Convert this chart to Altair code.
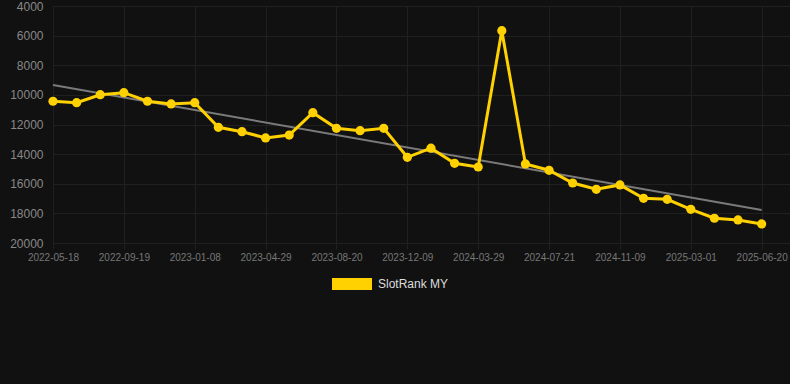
import altair as alt
import pandas as pd

# ---- data ----
ranks = [10430, 10530, 9990, 9850, 10430, 10615, 10530, 12190, 12485, 12910,
         12710, 11200, 12260, 12415, 12260, 14215, 13600, 14620, 14870, 5665,
         14665, 15090, 15950, 16375, 16080, 16980, 17050, 17725, 18330, 18445,
         18715]
tick_labels = ["2022-05-18", "2022-09-19", "2023-01-08", "2023-04-29", "2023-08-20",
               "2023-12-09", "2024-03-29", "2024-07-21", "2024-11-09", "2025-03-01",
               "2025-06-20"]
y_ticks = [4000, 6000, 8000, 10000, 12000, 14000, 16000, 18000, 20000]
trend_idx = [0, 30]
trend_vals = [9330, 17770]
series_name = "SlotRank MY"

df = pd.DataFrame({"idx": list(range(len(ranks))), "rank": ranks, "series": series_name})
trend_df = pd.DataFrame({"idx": trend_idx, "rank": trend_vals})

YELLOW = "#FFD100"
GRID = "#202020"
FONT = "Liberation Sans"

label_js = "[" + ",".join(f"'{d}'" for d in tick_labels) + "][round(datum.value/3)]"

x_enc = alt.X("idx:Q",
              scale=alt.Scale(domain=[0, 31.2], nice=False, zero=False),
              axis=alt.Axis(values=list(range(0, 31, 3)), labelExpr=label_js, title=None,
                            grid=True, gridColor=GRID, domain=False, ticks=True,
                            tickColor=GRID, tickSize=6, labelPadding=3,
                            labelColor="#777777", labelFontSize=10, labelFont=FONT,
                            labelFlush=False, labelOverlap=False))
y_enc = alt.Y("rank:Q",
              scale=alt.Scale(domain=[4000, 20000], reverse=True, nice=False, zero=False),
              axis=alt.Axis(values=y_ticks, format="d", title=None,
                            grid=True, gridColor=GRID, domain=False, ticks=False,
                            labelPadding=10, labelColor="#888888", labelFontSize=12,
                            labelFont=FONT, labelOverlap=False, labelFlush=False))

trend = alt.Chart(trend_df).mark_line(color="#7a7a7a", strokeWidth=2).encode(
    x=x_enc, y=y_enc)

line = alt.Chart(df).mark_line(strokeWidth=3, strokeJoin="miter", color=YELLOW).encode(
    x=x_enc, y=y_enc)

points = alt.Chart(df).mark_circle(size=85, opacity=1).encode(
    x=x_enc, y=y_enc,
    color=alt.Color("series:N", scale=alt.Scale(range=[YELLOW]),
                    legend=alt.Legend(orient="none", legendX=279, legendY=258,
                                      title=None, symbolType="M-1,-0.3H1V0.3H-1Z",
                                      symbolSize=1600, symbolStrokeWidth=0,
                                      symbolOpacity=1,
                                      labelColor="#dddddd", labelFontSize=12,
                                      labelFont=FONT, labelOffset=6)))

chart = alt.layer(trend, line, points).properties(
    width=737, height=237,
    padding={"left": 53, "top": 6, "right": 0, "bottom": 141},
    autosize=alt.AutoSizeParams(type="none"),
    background="#111111",
).configure_view(stroke=None)

chart.save("out.html", embed_options={"renderer": "svg", "actions": False})
